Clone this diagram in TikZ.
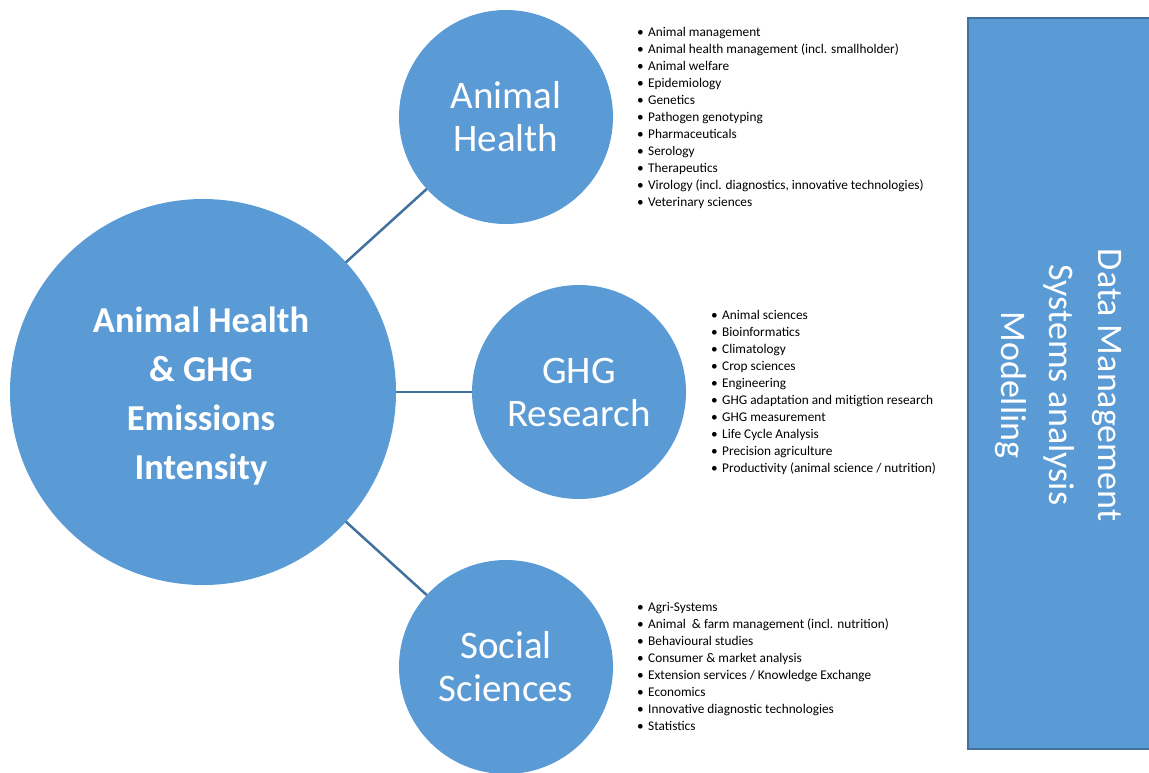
\documentclass[tikz,border=0pt]{standalone}
\usepackage{fontspec}
\setmainfont{Carlito}
\definecolor{cfill}{HTML}{5B9BD5}
\definecolor{cline}{HTML}{41719C}
\begin{document}
\begin{tikzpicture}[x=1pt,y=-1pt,
  bubble/.style={circle, fill=cfill, inner sep=0pt, outer sep=0pt, text=white, align=center,
    font=\fontsize{39}{43}\selectfont},
  bigtext/.style={text=white, align=center, inner sep=0pt, font=\bfseries\fontsize{36.5}{49}\selectfont},
  link/.style={draw=cline, line width=2.5pt},
  item/.style={anchor=base west, inner sep=0pt, font=\fontsize{13.3}{17}\selectfont},
  sidebox/.style={draw=cline, line width=2pt, fill=cfill, rectangle, inner sep=0pt},
  sidetext/.style={text=white, align=center, rotate=-90, font=\fontsize{36}{48.5}\selectfont}]
\useasboundingbox (0,0) rectangle (1149,772);
\node[sidebox, minimum width=192pt, minimum height=731pt] (dm) at (1064,383.5) {};
\node[sidetext] (dmt) at (1058,385) {Data Management\\Systems analysis\\Modelling};

\node[bubble, minimum size=386pt] (core) at (203,392) {};
\node[bigtext] (coretext) at (201,396) {Animal Health\\\& GHG\\Emissions\\Intensity};
\node[bubble, minimum size=214pt] (ah) at (506,117) {Animal\\Health};
\node[bubble, minimum size=214pt] (ghg) at (579,392) {GHG\\Research};
\node[bubble, minimum size=214pt] (soc) at (506,667) {Social\\Sciences};

\draw[link] (core) -- (ah);
\draw[link] (core) -- (ghg);
\draw[link] (core) -- (soc);

\def\bul{\llap{\makebox[11pt][l]{•}}}
\foreach \t [count=\i] in {Animal management, Animal health management (incl. smallholder), Animal welfare, Epidemiology, Genetics, Pathogen genotyping, Pharmaceuticals, Serology, Therapeutics, {Virology (incl. diagnostics, innovative technologies)}, Veterinary sciences}
  \node[item] (ahl\i) at (648,{36.5+17*(\i-1)}) {\bul\t};
\foreach \t [count=\i] in {Animal sciences, Bioinformatics, Climatology, Crop sciences, Engineering, GHG adaptation and mitigtion research, GHG measurement, Life Cycle Analysis, Precision agriculture, Productivity (animal science / nutrition)}
  \node[item] (ghl\i) at (722,{319.5+17*(\i-1)}) {\bul\t};
\foreach \t [count=\i] in {Agri-Systems, Animal~~\& farm management (incl. nutrition), Behavioural studies, Consumer \& market analysis, Extension services / Knowledge Exchange, Economics, Innovative diagnostic technologies, Statistics}
  \node[item] (ssl\i) at (648,{611.5+17*(\i-1)}) {\bul\t};
\end{tikzpicture}
\end{document}
